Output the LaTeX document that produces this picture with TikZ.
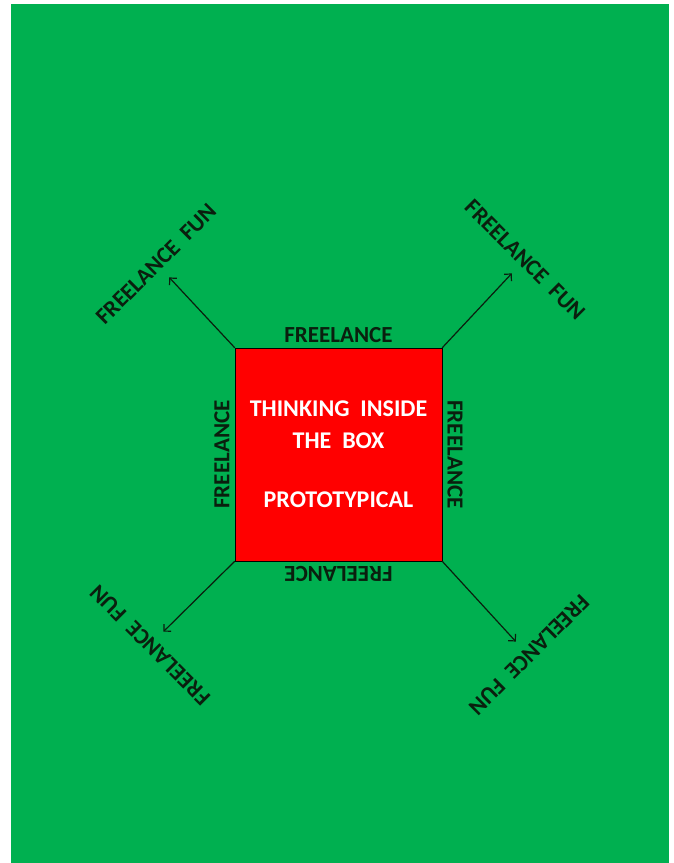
\documentclass[tikz,border=0pt]{standalone}
\usepackage{fontspec}
\setmainfont{Carlito}
\usepackage{xcolor}
\definecolor{field}{HTML}{00B050}
\definecolor{boxred}{HTML}{FF0000}
\definecolor{ink}{HTML}{0A1F0E}
\usetikzlibrary{arrows.meta, positioning}

\begin{document}
\begin{tikzpicture}[x=1pt, y=-1pt, >={Straight Barb[length=5pt,width=10pt]}]
  \tikzset{
    edgelabel/.style={inner sep=5pt, text=ink,
                      font=\bfseries\fontsize{23}{27}\selectfont},
    funlabel/.style={inner sep=7pt, text=ink,
                     font=\bfseries\fontsize{23}{27}\selectfont},
    pointer/.style={->, line width=1.2pt, draw=ink, shorten >=4pt}
  }
  \useasboundingbox (0,0) rectangle (673,863);
  \fill[field] (11,4) rectangle (669,863);

  \node[draw=black, fill=boxred, minimum width=207pt, minimum height=213pt,
        align=center, text=white,
        font=\bfseries\fontsize{24}{32}\selectfont] (box) at (338.5,454.5)
        {THINKING\ \ INSIDE\\THE\ \ BOX\\[27pt]PROTOTYPICAL};

  \node[edgelabel, anchor=south] (top) at (box.north) {FREELANCE};
  \node[edgelabel, rotate=-90, anchor=south] (right) at (box.east) {FREELANCE};
  \node[edgelabel, rotate=180, anchor=south] (bottom) at (box.south) {FREELANCE};
  \node[edgelabel, rotate=90, anchor=south] (left) at (box.west) {FREELANCE};

  \node[funlabel, rotate=45] (funnw) at (156,264) {FREELANCE\ \ FUN};
  \node[funlabel, rotate=-45] (funne) at (525,260) {FREELANCE\ \ FUN};
  \node[funlabel, rotate=135] (funsw) at (150,645) {FREELANCE\ \ FUN};
  \node[funlabel, rotate=-135] (funse) at (529,655) {FREELANCE\ \ FUN};

  \draw[pointer] (box.north west) -- (funnw.south);
  \draw[pointer] (box.north east) -- (funne.south);
  \draw[pointer] (box.south west) -- (funsw.south);
  \draw[pointer] (box.south east) -- (funse.south);
\end{tikzpicture}
\end{document}
